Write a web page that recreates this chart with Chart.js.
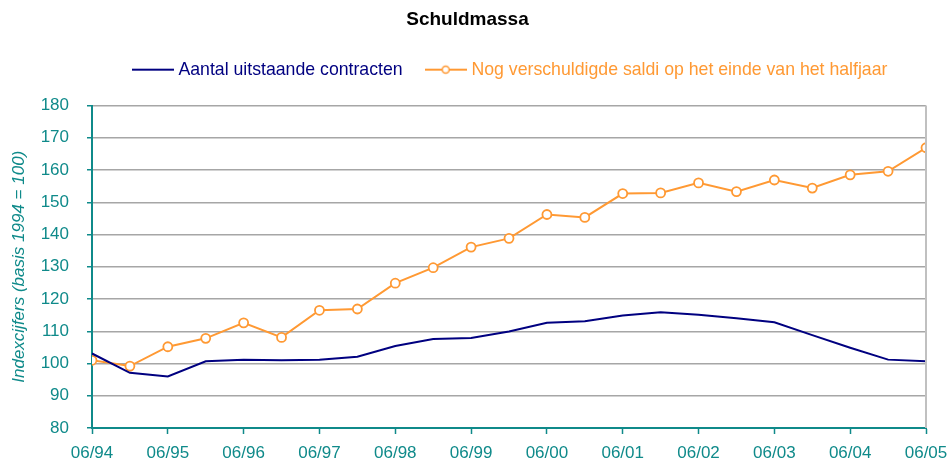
<!DOCTYPE html>
<html>
<head>
<meta charset="utf-8">
<style>
  html, body { margin: 0; padding: 0; background: #fff; }
  #wrap { width: 948px; height: 463px; }
</style>
</head>
<body>
<div id="wrap"><canvas id="schuldChart"></canvas></div>
<script src="https://cdn.jsdelivr.net/npm/chart.js"></script>
<script>
    // halfjaarlijkse meetpunten, 06/94 t/m 06/05
    const periods = ['06/94', '12/94', '06/95', '12/95', '06/96', '12/96', '06/97', '12/97',
        '06/98', '12/98', '06/99', '12/99', '06/00', '12/00', '06/01', '12/01',
        '06/02', '12/02', '06/03', '12/03', '06/04', '12/04', '06/05'];
    const contracten = [103.1, 97.1, 96.0, 100.7, 101.2, 101.0, 101.2, 102.1, 105.4, 107.6,
        107.9, 109.9, 112.6, 113.1, 114.9, 115.9, 115.1, 114.0, 112.8, 108.8, 104.9, 101.2, 100.7];
    const saldi = [101.0, 99.2, 105.2, 107.8, 112.6, 108.1, 116.5, 116.9, 124.9, 129.7,
        136.1, 138.8, 146.2, 145.3, 152.7, 152.9, 156.0, 153.3, 156.9, 154.4, 158.5, 159.6, 166.9];
    const yTicks = [80, 90, 100, 110, 120, 130, 140, 150, 160, 170, 180];

    const navy = '#000080';
    const orange = '#FF9933';
    const teal = '#0F8A8A';
    const gridGray = '#A6A6A6';
    const fam = 'Liberation Sans, Arial, sans-serif';

    // legend-symbool: lijntje (42px), optioneel met open rondje; 4px breder dan het vak aan elke kant
    function legendIcon(color, withCircle) {
        const c = document.createElement('canvas');
        c.width = 42; c.height = 12;
        const g = c.getContext('2d');
        g.strokeStyle = color;
        g.lineWidth = 2;
        g.beginPath(); g.moveTo(0, 6); g.lineTo(42, 6); g.stroke();
        if (withCircle) {
            g.fillStyle = '#fff';
            g.lineWidth = 1.5;
            g.beginPath(); g.arc(21, 6, 3.5, 0, Math.PI * 2); g.fill(); g.stroke();
        }
        return c;
    }
    const icons = [legendIcon(navy, false), legendIcon(orange, true)];

    const rightBorder = {
        id: 'rightBorder',
        afterDraw(chart) {
            const a = chart.chartArea, g = chart.ctx;
            g.save();
            g.strokeStyle = '#C0C0C0';
            g.lineWidth = 2;
            g.beginPath(); g.moveTo(a.right, a.top); g.lineTo(a.right, a.bottom); g.stroke();
            g.restore();
        }
    };

    // legende: extra ruimte eronder en iets naar rechts, zoals in het origineel
    const legendTweak = {
        id: 'legendTweak',
        beforeInit(chart) {
            const lg = chart.legend;
            const fit = lg.fit;
            lg.fit = function () {
                fit.call(lg);
                this.height += 17;
            };
            const draw = lg.draw;
            lg.draw = function (area) {
                const c = this.ctx;
                c.save();
                c.translate(44, 0);
                draw.call(lg, area);
                c.restore();
            };
        }
    };

    const ctx = document.getElementById('schuldChart').getContext('2d');
    new Chart(ctx, {
        type: 'line',
        data: {
            datasets: [
                {
                    label: 'Aantal uitstaande contracten',
                    data: contracten.map((v, i) => ({ x: i, y: v })),
                    borderColor: navy,
                    backgroundColor: navy,
                    borderWidth: 2,
                    pointRadius: 0,
                    tension: 0
                },
                {
                    label: 'Nog verschuldigde saldi op het einde van het halfjaar',
                    data: saldi.map((v, i) => ({ x: i, y: v })),
                    borderColor: orange,
                    backgroundColor: '#fff',
                    borderWidth: 2,
                    pointRadius: 4.5,
                    pointBorderWidth: 1.8,
                    pointBackgroundColor: '#fff',
                    tension: 0
                }
            ]
        },
        options: {
            responsive: true,
            maintainAspectRatio: false,
            animation: false,
            layout: { padding: { left: 9, right: 22, top: 2, bottom: 0 } },
            plugins: {
                title: {
                    display: true,
                    text: 'Schuldmassa',
                    color: '#000',
                    font: { family: fam, size: 19, weight: 'bold' },
                    padding: { top: 6, bottom: 4 }
                },
                legend: {
                    position: 'top',
                    labels: {
                        usePointStyle: true,
                        pointStyleWidth: 34,
                        boxHeight: 12,
                        padding: 26,
                        font: { family: fam, size: 17.7 },
                        generateLabels(chart) {
                            return chart.data.datasets.map((ds, i) => ({
                                text: ds.label,
                                fontColor: ds.borderColor,
                                pointStyle: icons[i],
                                datasetIndex: i,
                                hidden: false,
                                lineWidth: 0
                            }));
                        }
                    }
                },
                tooltip: { enabled: false }
            },
            scales: {
                x: {
                    type: 'linear',
                    min: 0,
                    max: periods.length - 1,
                    afterFit(axis) {
                        axis.height = 35;
                        axis.paddingLeft = 0;
                        axis.paddingRight = 0;
                    },
                    border: { color: teal, width: 2 },
                    grid: { drawOnChartArea: false, drawTicks: true, tickLength: 6, tickColor: teal, tickWidth: 1.5 },
                    ticks: {
                        stepSize: 2,
                        color: teal,
                        padding: 9,
                        maxRotation: 0,
                        font: { family: fam, size: 17 },
                        callback: v => periods[v]
                    }
                },
                y: {
                    min: 80,
                    max: 180,
                    afterBuildTicks(axis) { axis.ticks = yTicks.map(v => ({ value: v })); },
                    afterFit(axis) { axis.width = 83; },
                    border: { color: teal, width: 2 },
                    grid: { color: gridGray, lineWidth: 1.5, tickLength: 5, tickColor: teal, tickWidth: 1.5 },
                    ticks: {
                        color: teal,
                        padding: 18,
                        font: { family: fam, size: 17 }
                    },
                    title: {
                        display: true,
                        text: 'Indexcijfers (basis 1994 = 100)',
                        color: teal,
                        padding: { top: 0, bottom: 10 },
                        font: { family: fam, size: 17, style: 'italic' }
                    }
                }
            }
        },
        plugins: [rightBorder, legendTweak]
    });
</script>
</body>
</html>
